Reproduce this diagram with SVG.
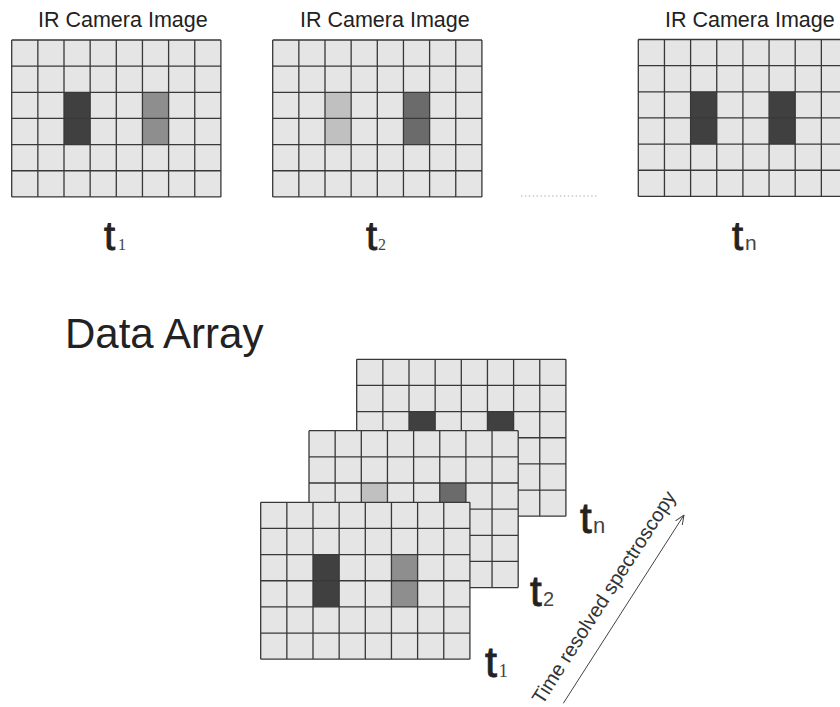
<svg xmlns="http://www.w3.org/2000/svg" xmlns:xlink="http://www.w3.org/1999/xlink" width="840" height="707" viewBox="0 0 840 707">
  <style>
    .bg { fill: #e5e5e5; }
    .gl { fill: none; stroke: #383838; stroke-width: 1.3; }
    .c-dark { fill: #404040; }
    .c-grey { fill: #8e8e8e; }
    .c-light { fill: #c0c0c0; }
    .c-mid { fill: #6b6b6b; }
    .title { font-family: "Liberation Sans", Arial, sans-serif; font-size: 21.5px; fill: #222; }
    .big { font-family: "Liberation Sans", Arial, sans-serif; font-size: 42px; fill: #222; }
    .t { font-family: "Liberation Sans", Arial, sans-serif; fill: #222; stroke: #222; stroke-width: 0.9; }
    .sub-serif { font-family: "Liberation Serif", "Times New Roman", serif; fill: #444; stroke: none; }
    .sub-sans { font-family: "Liberation Sans", Arial, sans-serif; fill: #444; stroke: none; }
    .axis { font-family: "Liberation Sans", Arial, sans-serif; font-size: 20px; fill: #333; }
  </style>
  <defs>
    <rect id="cellbg" class="bg" x="0" y="0" width="209.2" height="156.9"/>
    <path id="lines" class="gl" d="M0 0V156.9M26.15 0V156.9M52.3 0V156.9M78.45 0V156.9M104.6 0V156.9M130.75 0V156.9M156.9 0V156.9M183.05 0V156.9M209.2 0V156.9M0 0H209.2M0 26.15H209.2M0 52.3H209.2M0 78.45H209.2M0 104.6H209.2M0 130.75H209.2M0 156.9H209.2"/>
    <marker id="open" viewBox="0 0 10 10" refX="9.5" refY="5" markerWidth="10" markerHeight="10" markerUnits="userSpaceOnUse" orient="auto">
      <path d="M0 1L9.5 5L0 9" fill="none" stroke="#444" stroke-width="1"/>
    </marker>
  </defs>

  <!-- Top row: IR camera images -->
  <g id="img1">
    <text class="title" x="38" y="27">IR Camera Image</text>
    <g transform="translate(11.7,40)">
      <use xlink:href="#cellbg"/>
      <rect class="c-dark" x="52.3" y="52.3" width="26.15" height="52.3"/>
      <rect class="c-grey" x="130.75" y="52.3" width="26.15" height="52.3"/>
      <use xlink:href="#lines"/>
    </g>
    <text class="t" x="104" y="249.5" font-size="40">t<tspan class="sub-serif" x="118" font-size="16">1</tspan></text>
  </g>

  <g id="img2">
    <text class="title" x="300" y="27">IR Camera Image</text>
    <g transform="translate(272.7,40)">
      <use xlink:href="#cellbg"/>
      <rect class="c-light" x="52.3" y="52.3" width="26.15" height="52.3"/>
      <rect class="c-mid" x="130.75" y="52.3" width="26.15" height="52.3"/>
      <use xlink:href="#lines"/>
    </g>
    <text class="t" x="366" y="249.5" font-size="40">t<tspan class="sub-serif" x="378" font-size="16">2</tspan></text>
  </g>

  <g id="dots">
    <line x1="521" y1="196" x2="599" y2="196" stroke="#aaaaaa" stroke-width="1.2" stroke-dasharray="1.4 2.5"/>
  </g>

  <g id="imgn">
    <text class="title" x="665" y="27">IR Camera Image</text>
    <g transform="translate(638.3,39.5)">
      <use xlink:href="#cellbg"/>
      <rect class="c-dark" x="52.3" y="52.3" width="26.15" height="52.3"/>
      <rect class="c-dark" x="130.75" y="52.3" width="26.15" height="52.3"/>
      <use xlink:href="#lines"/>
    </g>
    <text class="t" x="732" y="249.5" font-size="40">t<tspan class="sub-sans" x="745" font-size="21">n</tspan></text>
  </g>

  <!-- Data array -->
  <g id="data-array-title">
    <text class="big" x="65" y="348">Data Array</text>
  </g>

  <g id="stack-tn">
    <g transform="translate(356.7,359.3)">
      <use xlink:href="#cellbg"/>
      <rect class="c-dark" x="52.3" y="52.3" width="26.15" height="52.3"/>
      <rect class="c-dark" x="130.75" y="52.3" width="26.15" height="52.3"/>
      <use xlink:href="#lines"/>
    </g>
    <text class="t" x="580" y="533" font-size="42">t<tspan class="sub-sans" x="593" font-size="22">n</tspan></text>
  </g>

  <g id="stack-t2">
    <g transform="translate(309,430.7)">
      <use xlink:href="#cellbg"/>
      <rect class="c-light" x="52.3" y="52.3" width="26.15" height="52.3"/>
      <rect class="c-mid" x="130.75" y="52.3" width="26.15" height="52.3"/>
      <use xlink:href="#lines"/>
    </g>
    <text class="t" x="530" y="606" font-size="42">t<tspan class="sub-sans" x="543" font-size="20">2</tspan></text>
  </g>

  <g id="stack-t1">
    <g transform="translate(260.7,502.3)">
      <use xlink:href="#cellbg"/>
      <rect class="c-dark" x="52.3" y="52.3" width="26.15" height="52.3"/>
      <rect class="c-grey" x="130.75" y="52.3" width="26.15" height="52.3"/>
      <use xlink:href="#lines"/>
    </g>
    <text class="t" x="485" y="677" font-size="43">t<tspan class="sub-serif" x="498.5" font-size="19">1</tspan></text>
  </g>

  <g id="connectors">
    <line x1="563.3" y1="703.3" x2="684" y2="515" stroke="#444" stroke-width="1" marker-end="url(#open)"/>
  </g>
  <g id="axis-label">
    <text class="axis" text-anchor="middle" transform="translate(609.5,601) rotate(-57.3)">Time resolved spectroscopy</text>
  </g>
</svg>
